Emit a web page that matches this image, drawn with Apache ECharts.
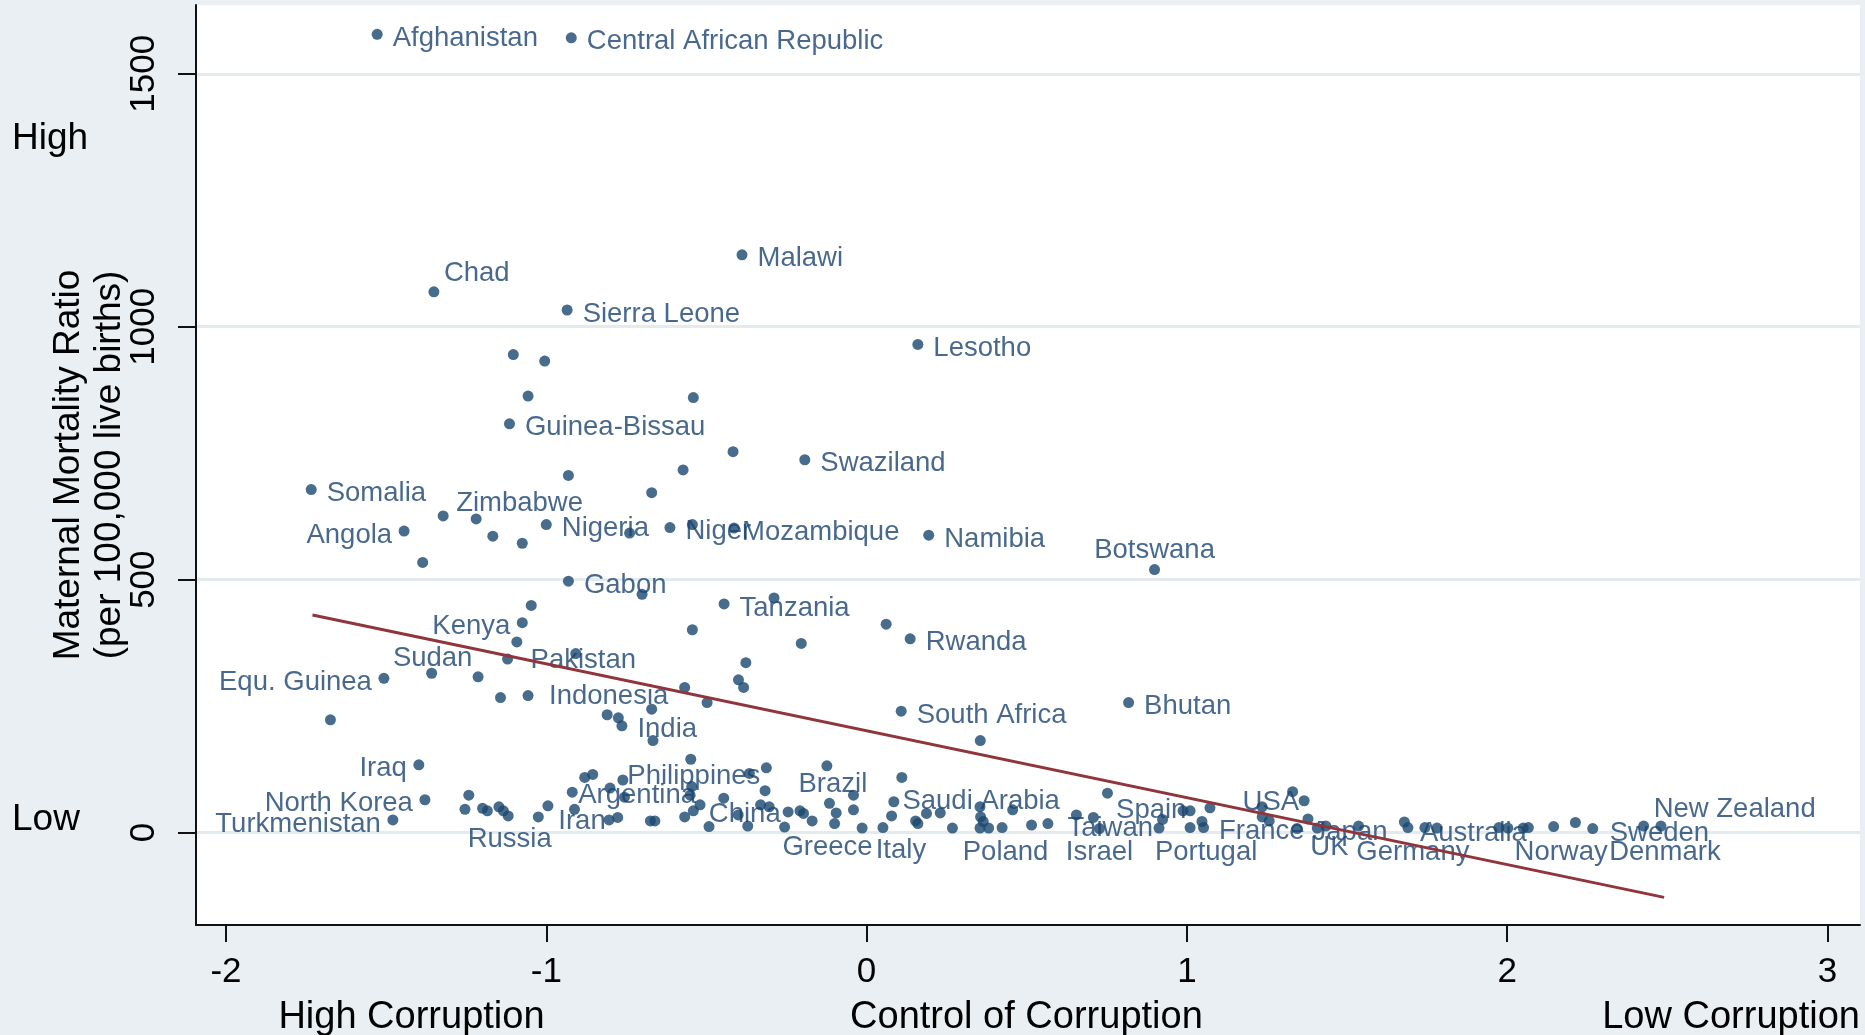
<!DOCTYPE html>
<html>
<head>
<meta charset="utf-8">
<script src="https://cdn.jsdelivr.net/npm/echarts@6/dist/echarts.min.js"></script>
<style>
html,body{margin:0;padding:0;background:#e9eff2;}
#chart{width:1865px;height:1035px;}
</style>
</head>
<body>
<div id="chart"></div>
<script>
// ---------------- DATA ----------------
const labeledNames = ['Afghanistan','Central African Republic','Malawi','Chad','Sierra Leone','Lesotho','Guinea-Bissau','Swaziland','Somalia','Zimbabwe','Angola','Nigeria','Niger','Mozambique','Namibia','Botswana','Gabon','Tanzania','Kenya','Rwanda','Sudan','Pakistan','Equ. Guinea','Indonesia','India','South Africa','Bhutan','Iraq','North Korea','Turkmenistan','Russia','Iran','Argentina','Philippines','China','Brazil','Greece','Italy','Saudi Arabia','Poland','Taiwan','Israel','Spain','Portugal','France','USA','Japan','UK','Germany','Australia','Norway','Sweden','Denmark','New Zealand'];
const labeledX = [-1.528,-0.922,-0.389,-1.351,-0.935,0.160,-1.115,-0.193,-1.734,-1.322,-1.444,-1.000,-0.614,-0.414,0.194,0.899,-0.931,-0.445,-1.075,0.136,-1.358,-1.121,-1.507,-1.057,-0.764,0.108,0.818,-1.398,-1.379,-1.479,-1.119,-1.025,-0.919,-0.761,-0.541,-0.124,-0.100,0.051,0.085,0.423,0.566,0.727,0.752,1.010,1.052,1.366,1.344,1.434,1.690,1.679,2.145,2.267,2.480,2.426];
const labeledY = [1578,1571,1142,1069,1033,965,808,737,678,626,596,609,603,602,588,520,497,452,415,383,315,343,305,271,211,240,257,134,65,25,33,31,80,104,43,132,18,10,61,10,18,8,78,10,10,63,8,13,10,21,12,8,13,13];

const otherX = [-1.103,-1.005,-1.057,-0.541,-0.417,-0.931,-0.573,-0.671,-1.219,-1.167,-1.075,-0.740,-0.544,-1.386,-0.701,-1.047,-1.092,-0.908,-1.213,-1.143,-0.671,-0.810,-0.775,-1.674,-0.667,-0.289,-0.544,0.061,-0.204,-0.377,-0.400,-0.384,-0.568,-0.498,0.355,
  -1.242,-1.254,-1.199,-1.184,-1.148,-1.134,-0.995,-0.912,-0.880,-0.855,-0.801,-0.756,-0.804,-0.777,-0.675,-0.661,-0.549,-0.546,-0.551,-0.366,-0.313,-0.317,-0.568,-0.520,-0.446,-0.492,-0.401,-0.371,-0.331,-0.304,-0.256,-0.245,-0.208,-0.197,-0.170,-0.116,-0.095,-0.041,-0.041,-0.014,0.078,0.110,0.153,0.160,0.187,0.230,0.268,0.354,0.356,0.364,0.354,0.381,0.456,0.515,0.655,0.708,0.913,0.924,0.988,1.010,1.047,1.072,1.235,1.235,1.257,1.330,1.378,1.407,1.536,1.743,1.781,1.974,2.002,2.050,2.066,2.213];
const otherY = [945,932,863,860,753,706,717,672,620,586,572,592,609,534,471,449,377,354,308,267,244,233,227,223,182,464,401,412,374,336,302,287,287,257,182,
  74,46,48,43,51,43,53,46,109,115,88,70,25,30,23,23,145,91,74,117,128,83,31,55,68,12,35,13,55,51,11,41,43,38,23,58,39,74,45,9,33,109,23,18,38,39,9,51,31,22,9,9,45,15,35,30,9,26,43,43,22,49,51,31,23,81,27,9,13,10,9,10,9,9,10,20];

// linear fit line end points
const fitX = [-1.73, 2.49];
const fitY = [430, -128];

const xTickValues = [-2, -1, 0, 1, 2, 3];
const yTickValues = [0, 500, 1000, 1500];
const xTitleTexts = ['High Corruption', 'Control of Corruption', 'Low Corruption'];
const sideTexts = ['High', 'Low'];

// ---------------- LAYOUT / STYLE ----------------
const FONT = '"Liberation Sans", Arial, Helvetica, sans-serif';
const NAVY = '#1a476f';
const xTitleAt = [-1.421, 0.499, 2.699];
const sideAt = [1371, 25];

// label placement: [align, dx, dy] (px, relative to marker centre)
const clock = {
  R: ['left', 15.5, 4],
  L: ['right', -12, 4],
  T: ['center', 0, -18],
  B: ['center', 0, 24],
  TR: ['left', 10, -18]
};
const labelPlacement = {
  'Chad': 'TR', 'New Zealand': ['left', 10, -17], 'Zimbabwe': ['left', 13, -12],
  'Angola': 'L', 'Kenya': 'L', 'Equ. Guinea': 'L', 'Iraq': 'L', 'North Korea': 'L', 'Turkmenistan': 'L',
  'Mozambique': ['left', 8, 4], 'Pakistan': ['left', 23, 1], 'Indonesia': ['left', 21, 1],
  'Sudan': ['center', 1, -15], 'Botswana': ['center', 0, -19], 'Russia': ['center', 1.5, 23],
  'Iran': ['left', 20, 4], 'Argentina': ['left', 6, 3], 'Philippines': ['left', 4.5, -3.5],
  'Brazil': ['center', 6, 19], 'Greece': ['center', -7, 24], 'Italy': ['center', 18, 23],
  'Saudi Arabia': ['left', 8.6, 0], 'Poland': ['center', 3.5, 25], 'Taiwan': ['left', 19.5, 5],
  'Israel': 'B', 'Spain': ['left', 8.6, 17.5], 'Portugal': ['center', 16, 25],
  'USA': ['right', -5, 2], 'UK': ['center', 3.5, 21], 'Germany': ['center', 5, 25],
  'Australia': ['left', 15.5, 11], 'Norway': ['center', 7.5, 26], 'Sweden': ['left', 17, 5],
  'Denmark': ['center', 4, 26.5]
};

function labelFor(name) {
  let p = labelPlacement[name] || 'R';
  if (typeof p === 'string') p = clock[p];
  return {
    show: true, position: 'inside', align: p[0], verticalAlign: 'middle',
    offset: [p[1], p[2]], formatter: name, color: '#1a4470', fontSize: 27.5,
    fontFamily: FONT, textBorderWidth: 0, textBorderColor: 'transparent'
  };
}

function nearestText(v, at, texts) {
  let best = 0;
  for (let i = 1; i < at.length; i++) if (Math.abs(at[i] - v) < Math.abs(at[best] - v)) best = i;
  return texts[best];
}

const labeledData = labeledNames.map((n, i) => ({ name: n, value: [labeledX[i], labeledY[i]], label: labelFor(n) }));
const otherData = otherX.map((x, i) => [x, otherY[i]]);
const fitData = fitX.map((x, i) => [x, fitY[i]]);

const X_MIN = -2.0937, X_MAX = 3.1015, Y_MIN = -182.6, Y_MAX = 1635.9;

const chart = echarts.init(document.getElementById('chart'), null, { renderer: 'canvas' });
chart.setOption({
  animation: false,
  backgroundColor: '#e9eff2',
  grid: { left: 196, right: 5, top: 5, bottom: 110, show: true, backgroundColor: '#ffffff', borderWidth: 0, containLabel: false, outerBoundsMode: 'none' },
  xAxis: [{
    type: 'value', min: X_MIN, max: X_MAX, position: 'bottom',
    axisLine: { show: true, onZero: false, lineStyle: { color: '#111', width: 2 } },
    axisTick: { show: true, customValues: xTickValues, length: 17, lineStyle: { color: '#111', width: 2 } },
    axisLabel: { customValues: xTickValues, fontSize: 35, color: '#000', fontFamily: FONT, margin: 30,
      formatter: v => String(v) },
    splitLine: { show: false }
  }, {
    type: 'value', min: X_MIN, max: X_MAX, position: 'bottom',
    axisLine: { show: false }, axisTick: { show: false }, splitLine: { show: false },
    axisLabel: { customValues: xTitleAt, fontSize: 38, color: '#000', fontFamily: FONT, margin: 74,
      formatter: v => nearestText(v, xTitleAt, xTitleTexts) }
  }],
  yAxis: [{
    type: 'value', min: Y_MIN, max: Y_MAX, position: 'left',
    name: 'Maternal Mortality Ratio\n(per 100,000 live births)', nameLocation: 'middle', nameRotate: 90, nameGap: 65,
    nameMoveOverlap: false,
    nameTextStyle: { fontSize: 37, color: '#000', fontFamily: FONT, lineHeight: 41.6 },
    axisLine: { show: true, onZero: false, lineStyle: { color: '#111', width: 2 } },
    axisTick: { show: true, customValues: yTickValues, length: 18, lineStyle: { color: '#111', width: 2 } },
    axisLabel: { customValues: yTickValues, rotate: 90, fontSize: 35, color: '#000', fontFamily: FONT, margin: 34,
      formatter: v => String(v) },
    splitLine: { show: true, lineStyle: { color: '#e3ebef', width: 3 } }
  }, {
    type: 'value', min: Y_MIN, max: Y_MAX, position: 'left', offset: 184,
    axisLine: { show: false }, axisTick: { show: false }, splitLine: { show: false },
    axisLabel: { customValues: sideAt, fontSize: 37, color: '#000', fontFamily: FONT, margin: 0, align: 'left',
      formatter: v => nearestText(v, sideAt, sideTexts) }
  }],
  series: [{
    type: 'scatter', name: 'others', data: otherData, symbol: 'circle', symbolSize: 11,
    itemStyle: { color: NAVY, borderWidth: 0 }, emphasis: { disabled: true }, z: 2
  }, {
    type: 'scatter', name: 'labeled', data: labeledData, symbol: 'circle', symbolSize: 11,
    itemStyle: { color: NAVY, borderWidth: 0 }, emphasis: { disabled: true }, z: 2
  }, {
    type: 'line', name: 'fit', data: fitData, showSymbol: false, symbol: 'none',
    lineStyle: { color: '#90353b', width: 3 }, emphasis: { disabled: true }, z: 5
  }]
});
</script>
</body>
</html>
